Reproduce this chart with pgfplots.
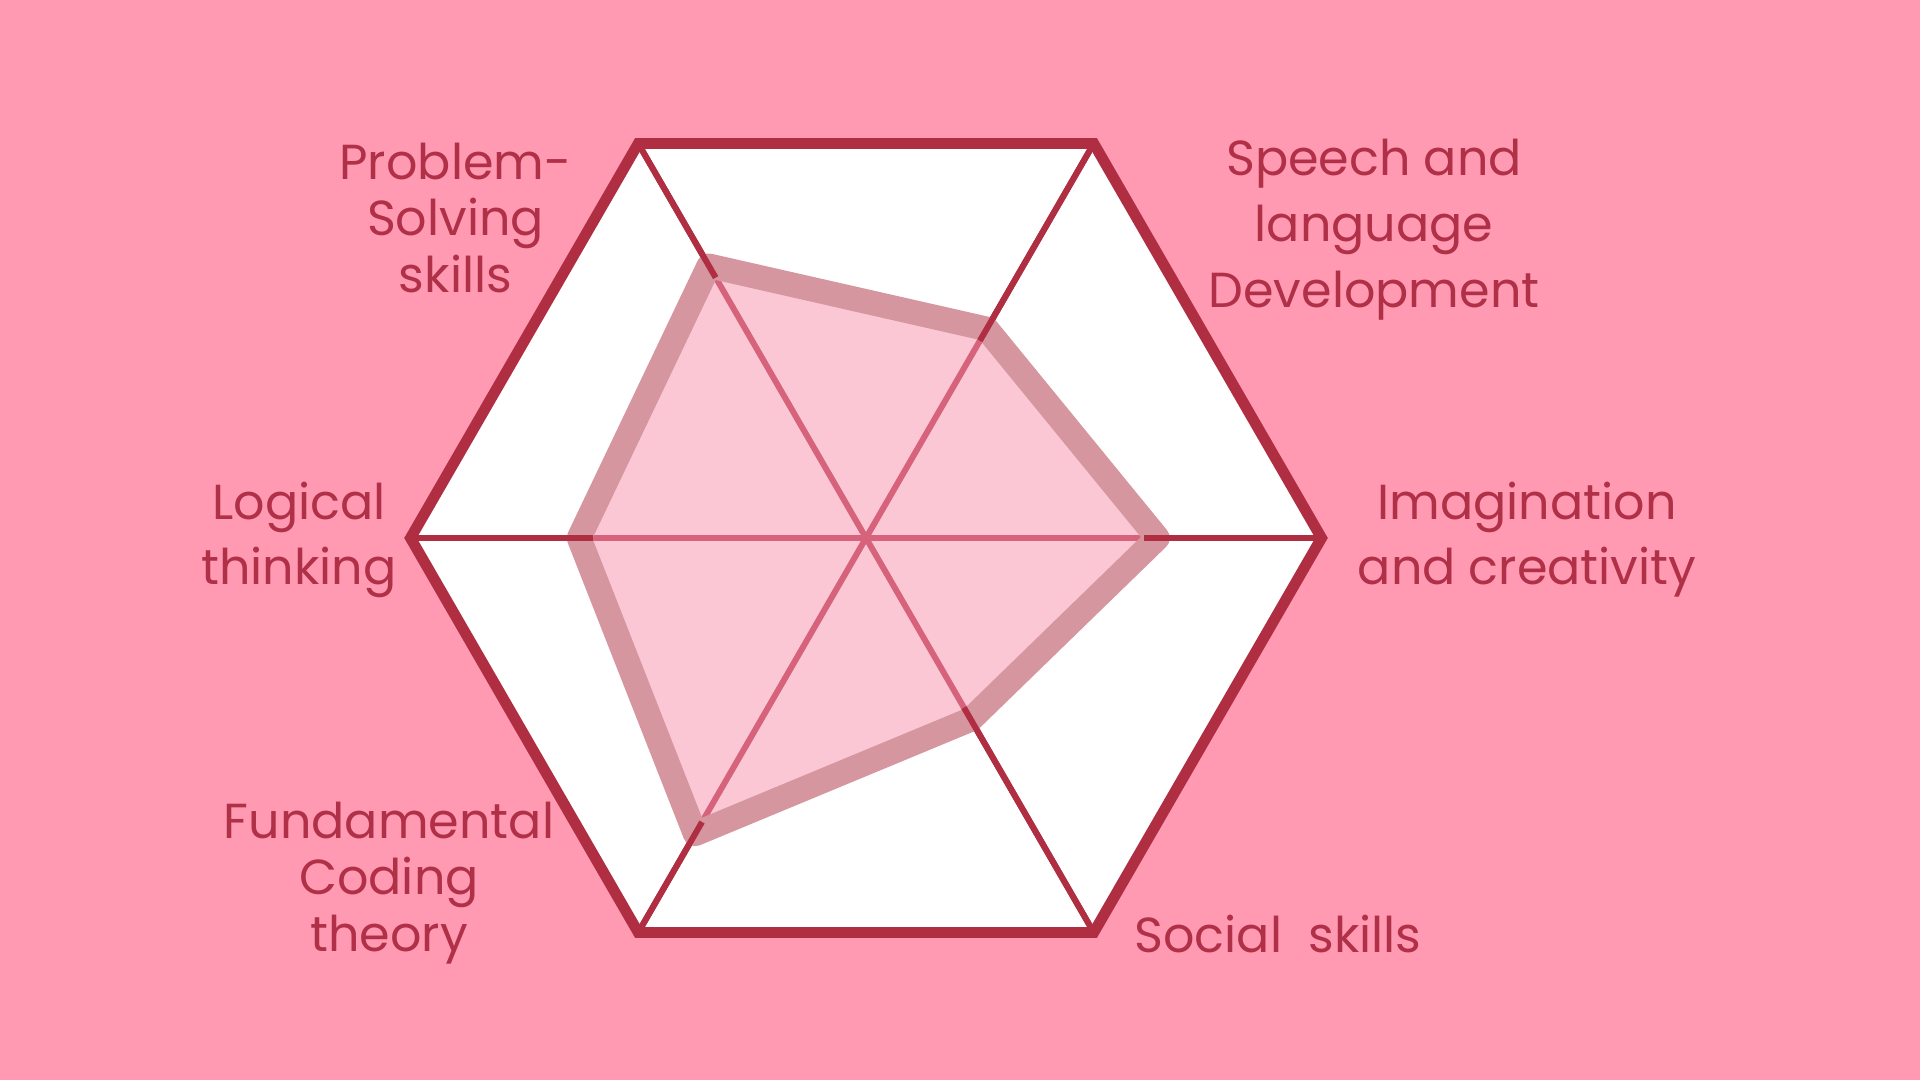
\documentclass[border=0pt]{standalone}
\usepackage{pgfplots}
\pgfplotsset{compat=1.18}
\usepgfplotslibrary{polar}
\usepackage{fontspec}
\setmainfont{Poppins}
\definecolor{bgpink}{HTML}{FF9AB2}
\definecolor{darkred}{HTML}{B02E42}
\definecolor{strokepink}{HTML}{D6969F}
\definecolor{fillpink}{HTML}{F995B0}
\definecolor{txt}{HTML}{B03048}
\begin{document}
\begin{tikzpicture}
\useasboundingbox (0,0) rectangle (19.2,10.8);
\fill[bgpink] (0,0) rectangle (19.2,10.8);
\begin{polaraxis}[
  hide axis, width=9.11cm, scale only axis,
  ymin=0, ymax=100, xmin=0, xmax=360,
  clip=false, at={(8.66cm,5.42cm)}, anchor=center]
% outer hexagon
\addplot[draw=darkred, line width=3.1pt, fill=white, line join=miter, mark=none]
  coordinates {(0,100) (60,100) (120,100) (180,100) (240,100) (300,100) (360,100) (420,100)};
% spokes
\addplot[draw=darkred, line width=1.7pt, mark=none] coordinates {(0,100) (180,100)};
\addplot[draw=darkred, line width=1.7pt, mark=none] coordinates {(60,100) (240,100)};
\addplot[draw=darkred, line width=1.7pt, mark=none] coordinates {(120,100) (300,100)};
% data fill
\addplot[draw=none, fill=fillpink, fill opacity=0.52, mark=none]
  coordinates {(0,64) (60,53) (120,69) (180,63) (240,75) (300,46) (360,64)};
% data stroke
\addplot[draw=strokepink, line width=7pt, line join=round, line cap=round, mark=none]
  coordinates {(0,64) (60,53) (120,69) (180,63) (240,75) (300,46) (360,64) (420,53)};
% spokes over the stroke, outside the data area
\addplot[draw=darkred, line width=1.7pt, mark=none] coordinates {(0,61) (0,100)};
\addplot[draw=darkred, line width=1.7pt, mark=none] coordinates {(60,50) (60,100)};
\addplot[draw=darkred, line width=1.7pt, mark=none] coordinates {(120,66) (120,100)};
\addplot[draw=darkred, line width=1.7pt, mark=none] coordinates {(180,60) (180,100)};
\addplot[draw=darkred, line width=1.7pt, mark=none] coordinates {(240,72) (240,100)};
\addplot[draw=darkred, line width=1.7pt, mark=none] coordinates {(300,43) (300,100)};
\end{polaraxis}
\begin{scope}[every node/.style={text=txt, align=center}]
\node[font=\fontsize{14}{18.8}\selectfont] at (13.74,8.50) {Speech and\\language\\Development};
\node[font=\fontsize{14}{18.5}\selectfont] at (15.27,5.40) {Imagination\\and creativity};
\node[font=\fontsize{14}{18.5}\selectfont] at (12.78,1.46) {Social~ skills};
\node[font=\fontsize{14}{16}\selectfont] at (3.89,1.97) {Fundamental\\Coding\\theory};
\node[font=\fontsize{14}{18.5}\selectfont] at (2.99,5.40) {Logical\\thinking};
\node[font=\fontsize{14}{16}\selectfont] at (4.555,8.62) {Problem-\\Solving\\skills};
\end{scope}
\end{tikzpicture}
\end{document}
